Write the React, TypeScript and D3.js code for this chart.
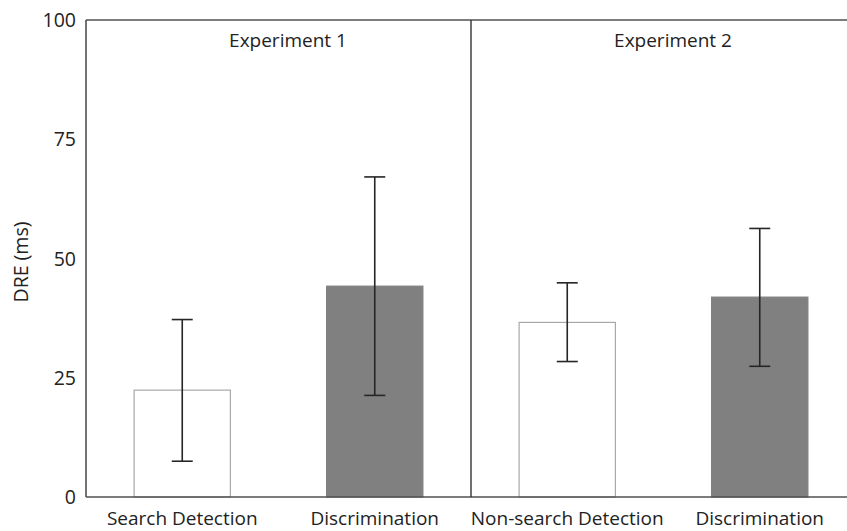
import React from "react";
import * as d3 from "d3";

const categories = ["Search Detection", "Discrimination", "Non-search Detection", "Discrimination "];
const means = [22.4, 44.2, 36.6, 41.9];
const errLow = [7.5, 21.3, 28.4, 27.4];
const errHigh = [37.2, 67.1, 44.9, 56.3];
const fills = ["white", "#808080", "white", "#808080"];
const yTicks = [0, 25, 50, 75, 100];
const panels = ["Experiment 1", "Experiment 2"];

export default function App() {
  const W = 847, H = 531;
  const left = 86, right = 856, top = 20, bottom = 497;
  const x = d3.scaleBand<string>().domain(categories).range([left, right]).paddingInner(0.5).paddingOuter(0.25);
  const y = d3.scaleLinear().domain([0, 100]).range([bottom, top]);
  const bw = x.bandwidth();
  const mid = (left + right) / 2;
  const font = "'Open Sans', sans-serif";
  const axisColor = "#505050";
  const fs = 19;
  return (
    <svg width={W} height={H} style={{ position: "absolute", left: 0, top: 0, background: "white" }}>
      {categories.map((c, i) => (
        <rect key={"b" + i} x={x(c)!} y={y(means[i])} width={bw} height={y(0) - y(means[i])}
          fill={fills[i]} stroke={fills[i] === "white" ? "#a8a8a8" : "#808080"} strokeWidth={1.2} />
      ))}
      {categories.map((c, i) => {
        const cx = x(c)! + bw / 2;
        return (
          <g key={"e" + i} stroke="#262626" strokeWidth={1.6}>
            <line x1={cx} x2={cx} y1={y(errLow[i])} y2={y(errHigh[i])} />
            <line x1={cx - 10.5} x2={cx + 10.5} y1={y(errLow[i])} y2={y(errLow[i])} />
            <line x1={cx - 10.5} x2={cx + 10.5} y1={y(errHigh[i])} y2={y(errHigh[i])} />
          </g>
        );
      })}
      <line x1={left} x2={W} y1={y(100)} y2={y(100)} stroke={axisColor} strokeWidth={1.6} />
      <line x1={left} x2={W} y1={y(0)} y2={y(0)} stroke={axisColor} strokeWidth={1.6} />
      <line x1={left} x2={left} y1={y(100)} y2={y(0)} stroke={axisColor} strokeWidth={1.6} />
      <line x1={mid} x2={mid} y1={y(100)} y2={y(0)} stroke="#333" strokeWidth={1.4} />
      {yTicks.map((t) => (
        <text key={"t" + t} x={76} y={y(t)} dy="0.36em" textAnchor="end" fontFamily={font} fontSize={19.5} fill="#222">{t}</text>
      ))}
      {categories.map((c, i) => (
        <text key={"l" + i} x={x(c)! + bw / 2} y={524.5} textAnchor="middle" fontFamily={font} fontSize={fs} fill="#222">{c.trim()}</text>
      ))}
      <text x={288} y={46.5} textAnchor="middle" fontFamily={font} fontSize={fs} fill="#222">{panels[0]}</text>
      <text x={673} y={46.5} textAnchor="middle" fontFamily={font} fontSize={fs} fill="#222">{panels[1]}</text>
      <text transform={`translate(28,262) rotate(-90)`} textAnchor="middle" fontFamily={font} fontSize={19.5} fill="#222">DRE (ms)</text>
    </svg>
  );
}
